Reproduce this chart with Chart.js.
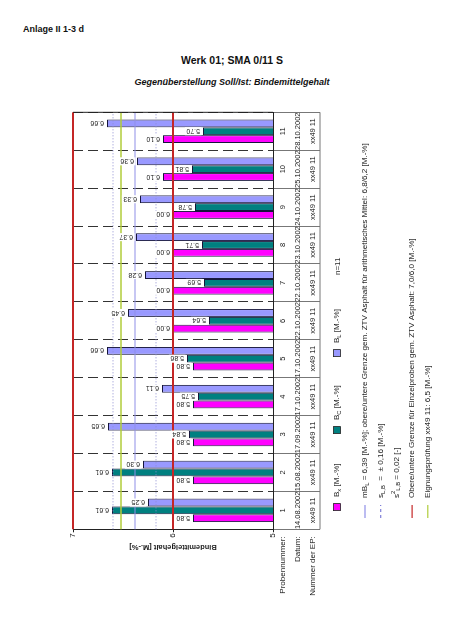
<!DOCTYPE html>
<html>
<head>
  <title>Werk 01; SMA 0/11 S</title>
  <script src="https://cdn.jsdelivr.net/npm/chart.js"></script>
  <style>
    html, body { margin: 0; padding: 0; width: 452px; height: 640px; overflow: hidden; background: #fff; font-family: "Liberation Sans", Arial, sans-serif; }
    .txt { position: absolute; white-space: nowrap; color: #111; line-height: 1.15; }
    /* chart is drawn upright and turned a quarter to the left, like the scanned page */
    #wrap { position: absolute; left: 20px; top: 630px; width: 530px; height: 425px; transform-origin: 0 0; transform: rotate(-90deg); }
  </style>
</head>
<body>
  <div class="txt" style="left:23px; top:24px; font-size:9px; font-weight:bold;">Anlage II 1-3 d</div>
  <div class="txt" style="left:232px; top:54px; font-size:10.5px; font-weight:bold; transform:translateX(-50%);">Werk 01; SMA 0/11 S</div>
  <div class="txt" style="left:232px; top:77px; font-size:9px; font-weight:bold; font-style:italic; transform:translateX(-50%);">Gegenüberstellung Soll/Ist: Bindemittelgehalt</div>

  <div id="wrap"><canvas id="myChart" width="530" height="425"></canvas></div>

<script>
// Data
const probenNr = ['1', '2', '3', '4', '5', '6', '7', '8', '9', '10', '11'];
const datum = ['14.08.2002', '15.08.2002', '17.09.2002', '17.10.2002', '17.10.2002', '22.10.2002',
               '22.10.2002', '23.10.2002', '24.10.2002', '25.10.2002', '28.10.2002'];
const nummerEP = ['xx49 11', 'xx49 11', 'xx49 11', 'xx49 11', 'xx49 11', 'xx49 11',
                  'xx49 11', 'xx49 11', 'xx49 11', 'xx49 11', 'xx49 11'];

const bX = [5.80, 5.80, 5.80, 5.80, 5.80, 6.00, 6.00, 6.00, 6.00, 6.10, 6.10]; // Soll
const bC = [6.61, 6.61, 5.84, 5.75, 5.86, 5.64, 5.69, 5.71, 5.78, 5.81, 5.70];
const bL = [6.25, 6.30, 6.65, 6.11, 6.66, 6.45, 6.28, 6.37, 6.33, 6.36, 6.66];

const valueTicks = [5, 6, 7];
const mittelwert = 6.38;          // mB_L line
const streuung = [6.60, 6.17];    // dotted lines
const grenzen = [7.0, 6.0];       // Einzelproben limits
const eignung = 6.52;             // Eignungspruefung

const FONT = '"Liberation Sans", Arial, sans-serif';
const yTitle = 'Bindemittelgehalt [M.-%]';
const rowTitles = ['Probennummer:', 'Datum:', 'Nummer der EP:'];

const legendBoxes = [
  { color: '#ff00ff', sub: 'x' },
  { color: '#008080', sub: 'C' },
  { color: '#9999ff', sub: 'L' }
];
const notes = [
  { line: '#8f8fe8', dash: [], parts: [['mB'], ['L', 'sub'], [' = 6,39 [M.-%]; obere/untere Grenze gem. ZTV Asphalt für arithmetisches Mittel: 6,8/6,2 [M.-%]']] },
  { line: '#7f7fd8', dash: [3, 3], parts: [['s'], ['L,B', 'sub'], ['  =  ± 0,16 [M.-%]']] },
  { line: null, parts: [['s'], ['2', 'sup'], ['L,B', 'sub'], [' = 0,02 [-]']] },
  { line: '#c42626', dash: [], parts: [['Obere/untere Grenze für Einzelproben gem. ZTV Asphalt: 7,0/6,0 [M.-%]']] },
  { line: '#b0cc3a', dash: [], parts: [['Eignungsprüfung xx49 11: 6,5 [M.-%]']] }
];

function richText(ctx, parts, x, y, size) {
  parts.forEach(([t, k]) => {
    const s = k ? size * 0.72 : size;
    ctx.font = s + 'px ' + FONT;
    const dy = k === 'sub' ? size * 0.3 : k === 'sup' ? -size * 0.35 : 0;
    ctx.fillText(t, x, y + dy);
    x += ctx.measureText(t).width;
  });
  return x;
}

const sollIstPlugin = {
  id: 'sollIst',
  afterDatasetsDraw(chart) {
    const { ctx, chartArea: a, scales: { y } } = chart;
    ctx.save();

    const hline = (val, color, dash, width) => {
      const py = y.getPixelForValue(val);
      ctx.beginPath();
      ctx.setLineDash(dash);
      ctx.strokeStyle = color;
      ctx.lineWidth = width;
      ctx.moveTo(a.left, py);
      ctx.lineTo(a.right, py);
      ctx.stroke();
    };
    streuung.forEach(v => hline(v, '#8c8cd0', [1, 2], 1));
    hline(eignung, '#b0cc3a', [], 1.5);
    hline(mittelwert, '#8f8fe8', [], 1.2);
    grenzen.forEach(v => hline(v, '#c42626', [], 2));

    // frame on the far end and outer edge of the table
    ctx.setLineDash([]);
    ctx.lineWidth = 1;
    ctx.strokeStyle = '#222';
    ctx.beginPath();
    ctx.moveTo(a.right, a.top);
    ctx.lineTo(a.right, a.bottom);
    ctx.stroke();
    ctx.strokeStyle = '#777';
    ctx.beginPath();
    ctx.moveTo(a.left, a.bottom + 47);
    ctx.lineTo(a.right, a.bottom + 47);
    ctx.stroke();

    // value labels
    ctx.font = '7px ' + FONT;
    ctx.textBaseline = 'middle';
    ctx.textAlign = 'left';
    chart.data.datasets.forEach((ds, di) => {
      chart.getDatasetMeta(di).data.forEach((bar, i) => {
        const txt = ds.data[i].toFixed(2);
        const w = ctx.measureText(txt).width;
        ctx.save();
        ctx.translate(bar.x, bar.y - 1.5);
        ctx.rotate(-Math.PI / 2);
        ctx.fillStyle = '#fff';
        ctx.fillRect(0, -4, w + 3, 8);
        ctx.fillStyle = '#222';
        ctx.fillText(txt, 1.5, 0.5);
        ctx.restore();
      });
    });
    ctx.restore();
  },
  afterDraw(chart) {
    const { ctx, chartArea: a } = chart;
    ctx.save();
    ctx.fillStyle = '#1a1a1a';
    ctx.textBaseline = 'middle';

    // table row titles
    ctx.font = '8px ' + FONT;
    ctx.textAlign = 'right';
    rowTitles.forEach((t, i) => ctx.fillText(t, a.left - 7, a.bottom + 10 + i * 15));

    // box legend
    ctx.textAlign = 'left';
    const lv = a.bottom + 64;
    legendBoxes.forEach((b, i) => {
      const u = 123 + i * 77;
      ctx.fillStyle = b.color;
      ctx.fillRect(u - 3.5, lv - 3.5, 7, 7);
      ctx.strokeStyle = '#222';
      ctx.lineWidth = 0.8;
      ctx.strokeRect(u - 3.5, lv - 3.5, 7, 7);
      ctx.fillStyle = '#1a1a1a';
      richText(ctx, [['B'], [b.sub, 'sub'], [' [M.-%]']], u + 10, lv, 8);
    });
    ctx.font = '8px ' + FONT;
    ctx.fillText('n=11', 355, lv + 1);

    // line legend / notes
    notes.forEach((n, i) => {
      const v = a.bottom + 92 + i * 15.7;
      if (n.line) {
        ctx.beginPath();
        ctx.setLineDash(n.dash);
        ctx.strokeStyle = n.line;
        ctx.lineWidth = 1.2;
        ctx.moveTo(112, v);
        ctx.lineTo(125, v);
        ctx.stroke();
        ctx.setLineDash([]);
      }
      ctx.fillStyle = '#1a1a1a';
      richText(ctx, n.parts, 132, v, 8.1);
    });
    ctx.restore();
  }
};

const ctx = document.getElementById('myChart');
const chart = new Chart(ctx, {
  type: 'bar',
  data: {
    labels: probenNr.map((n, i) => [n, datum[i], nummerEP[i]]),
    datasets: [
      { label: 'Bx [M.-%]', data: bX, backgroundColor: '#ff00ff' },
      { label: 'BC [M.-%]', data: bC, backgroundColor: '#008080' },
      { label: 'BL [M.-%]', data: bL, backgroundColor: '#9999ff' }
    ]
  },
  options: {
    responsive: false,
    animation: false,
    devicePixelRatio: 1,
    layout: { autoPadding: false, padding: { left: 78.5, right: 12.3, top: 53, bottom: 0 } },
    datasets: {
      bar: { borderColor: '#15153a', borderWidth: 1, categoryPercentage: 0.62, barPercentage: 1 }
    },
    plugins: { legend: { display: false }, tooltip: { enabled: false } },
    scales: {
      x: {
        ticks: {
          font: { size: 7.5, family: FONT, lineHeight: '15px' },
          color: '#1a1a1a', padding: -44.5, autoSkip: false, maxRotation: 0, minRotation: 0
        },
        grid: { offset: true, color: '#333', lineWidth: 1, drawTicks: true, tickLength: 47, tickColor: '#777', tickWidth: 1, tickBorderDash: [] },
        border: { display: true, color: '#222', width: 1, dash: [10, 5] },
        afterFit: s => { s.height = 172; }
      },
      y: {
        min: 5,
        max: 7,
        afterBuildTicks: s => { s.ticks = valueTicks.map(v => ({ value: v })); },
        ticks: { font: { size: 8, family: FONT }, color: '#1a1a1a', padding: 1 },
        grid: { drawOnChartArea: false, drawTicks: true, tickLength: 3, tickColor: '#222' },
        border: { display: true, color: '#222', width: 1 },
        title: { display: true, text: yTitle, font: { size: 7.5, weight: 'bold', family: FONT }, color: '#1a1a1a', padding: 0 },
        afterFit: s => { s.width = 22.2; }
      }
    }
  },
  plugins: [sollIstPlugin]
});
</script>
</body>
</html>
